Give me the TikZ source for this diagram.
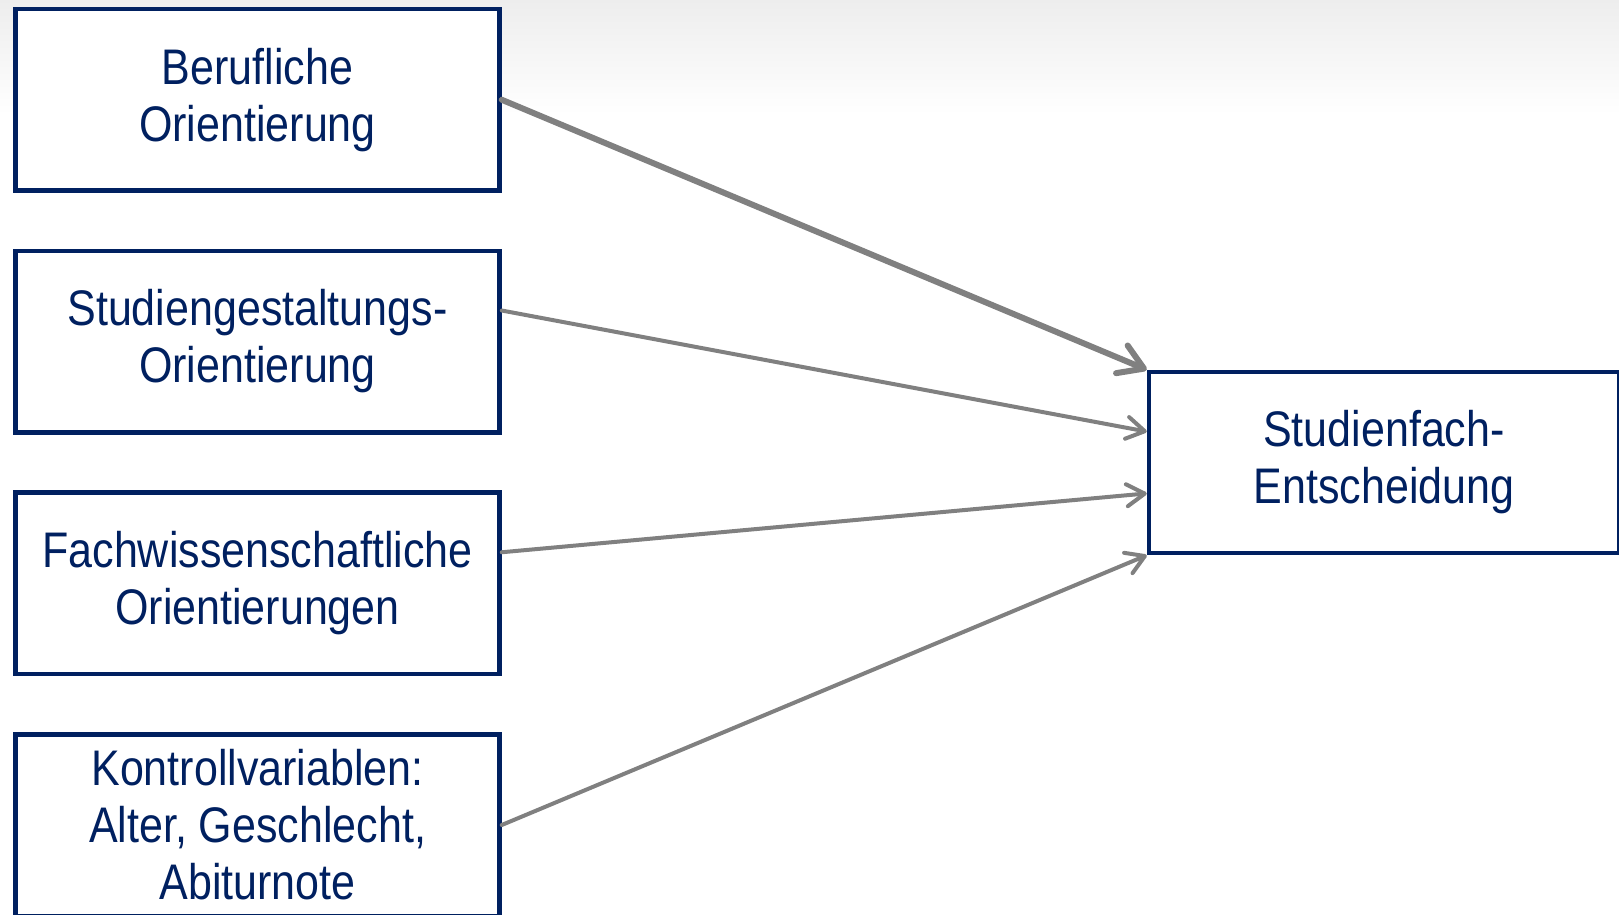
\documentclass[tikz,border=0pt]{standalone}
\usepackage{fontspec}
\setmainfont{Liberation Sans}[FakeStretch=0.86]
\usepackage{tikz}
\usetikzlibrary{arrows.meta,calc}

\definecolor{navy}{RGB}{0,32,96}
\definecolor{pfeilgrau}{RGB}{128,128,128}

\tikzset{
  faktor/.style = {draw=navy, line width=4.5pt, fill=white, text=navy,
    minimum width=484pt, minimum height=181.5pt, align=center,
    font=\fontsize{50}{57}\selectfont,
    execute at begin node=\rule{0pt}{43pt}},
  pfeil/.style = {draw=pfeilgrau, line width=4pt, line cap=round,
    -{Straight Barb[length=18pt,width=22pt,line cap=round,round]}},
  dickpfeil/.style = {pfeil, line width=6pt,
    -{Straight Barb[length=24pt,width=30pt,line cap=round,round]}}
}

\begin{document}
\begin{tikzpicture}[x=1pt, y=-1pt, node distance = 241.75pt]
\useasboundingbox (0,0) rectangle (1619,914);
\shade[top color=black!7, bottom color=white] (0,0) rectangle (1619,115);

\node[faktor] (beruf) at (257.5,99.75) {Berufliche\\Orientierung};
\node[faktor] (studium) [below of = beruf] {Studiengestaltungs-\\Orientierung};
\node[faktor] (fach) [below of = studium] {Fachwissenschaftliche\\Orientierungen};
\node[faktor] (kontrolle) [below of = fach] {Kontrollvariablen:\\Alter, Geschlecht,\\Abiturnote};
\node[faktor, minimum width=470pt, minimum height=181pt] (wahl) at (1384,462.5) {Studienfach-\\Entscheidung};

\draw[dickpfeil] (beruf.east) -- (wahl.north west);
\draw[pfeil] ($(studium.north east)!1/3!(studium.south east)$) -- ($(wahl.north west)!1/3!(wahl.south west)$);
\draw[pfeil] ($(fach.north east)!1/3!(fach.south east)$) -- ($(wahl.north west)!2/3!(wahl.south west)$);
\draw[pfeil] (kontrolle.east) -- (wahl.south west);
\end{tikzpicture}
\end{document}
